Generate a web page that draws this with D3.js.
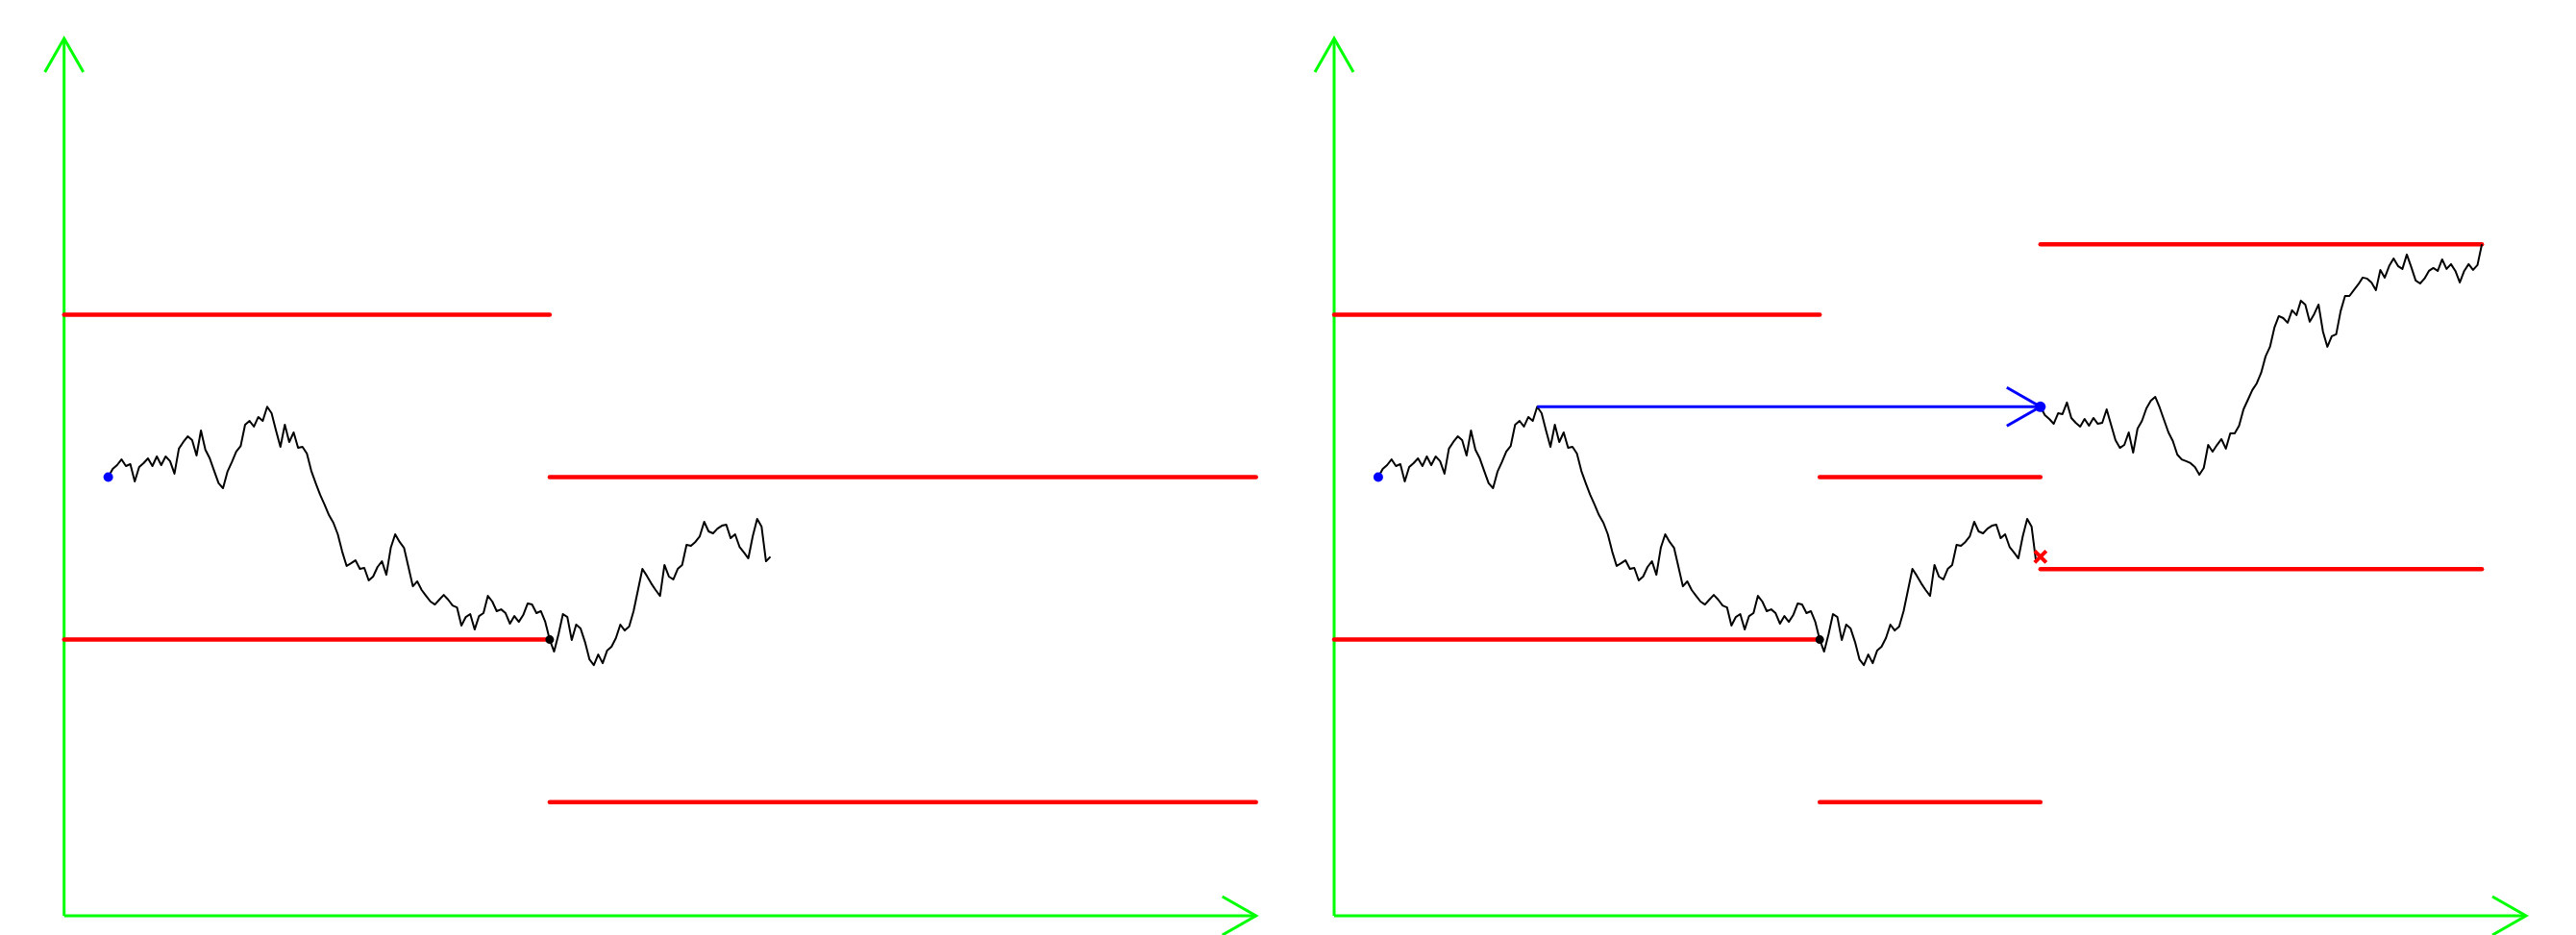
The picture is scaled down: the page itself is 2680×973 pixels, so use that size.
<!DOCTYPE html>
<html>
<head>
<meta charset="utf-8">
<script src="https://cdn.jsdelivr.net/npm/d3@7"></script>
<style>
  body { margin: 0; background: #fff; }
  svg { display: block; }
</style>
</head>
<body>
<svg id="chart"></svg>
<script>
// time grid step of the sampled paths
const step = 0.01;

// first path, starts at 0 at t = 0, hits -1 at t = 1, stopped at t = 1.5
const path1 = [
  0, 0.050, 0.074, 0.109, 0.068, 0.080, -0.027, 0.062, 0.086, 0.115,
  0.068, 0.127, 0.074, 0.127, 0.098, 0.021, 0.175, 0.216, 0.251, 0.228,
  0.133, 0.287, 0.169, 0.115, 0.038, -0.038, -0.068, 0.033, 0.092, 0.157,
  0.192, 0.322, 0.346, 0.311, 0.370, 0.346, 0.433, 0.393, 0.287, 0.186,
  0.322, 0.216, 0.275, 0.180, 0.186, 0.145, 0.038, -0.038, -0.109, -0.169,
  -0.234, -0.281, -0.352, -0.459, -0.547, -0.530, -0.512, -0.565, -0.559, -0.636,
  -0.612, -0.553, -0.518, -0.601, -0.435, -0.352, -0.399, -0.435, -0.553, -0.672,
  -0.642, -0.695, -0.731, -0.766, -0.784, -0.754, -0.725, -0.754, -0.790, -0.802,
  -0.914, -0.861, -0.843, -0.938, -0.855, -0.837, -0.731, -0.766, -0.825, -0.814,
  -0.837, -0.902, -0.855, -0.891, -0.849, -0.778, -0.784, -0.837, -0.825, -0.891,
  -1.000, -1.074, -0.967, -0.843, -0.861, -1.003, -0.908, -0.932, -1.015, -1.121,
  -1.157, -1.092, -1.145, -1.068, -1.044, -0.991, -0.908, -0.944, -0.920, -0.825,
  -0.695, -0.565, -0.607, -0.654, -0.695, -0.731, -0.541, -0.612, -0.630, -0.565,
  -0.541, -0.417, -0.423, -0.399, -0.364, -0.275, -0.334, -0.346, -0.317, -0.299,
  -0.293, -0.376, -0.352, -0.429, -0.464, -0.500, -0.364, -0.257, -0.305, -0.518,
  -0.490
];

// second path, restarted at the running max at t = 1.5, hits max+1 at t = 2.5
const path2 = [
  0.433, 0.382, 0.358, 0.328, 0.393, 0.388, 0.459, 0.364, 0.334, 0.311,
  0.358, 0.317, 0.364, 0.328, 0.334, 0.417, 0.322, 0.228, 0.180, 0.198,
  0.275, 0.151, 0.299, 0.346, 0.423, 0.470, 0.494, 0.429, 0.352, 0.275,
  0.222, 0.139, 0.109, 0.098, 0.086, 0.062, 0.015, 0.056, 0.198, 0.157,
  0.198, 0.234, 0.175, 0.269, 0.269, 0.317, 0.417, 0.476, 0.536, 0.577,
  0.642, 0.743, 0.802, 0.920, 0.991, 0.979, 0.950, 1.027, 0.997, 1.086,
  1.062, 0.956, 1.003, 1.062, 0.896, 0.802, 0.867, 0.879, 1.021, 1.115,
  1.115, 1.151, 1.186, 1.228, 1.222, 1.198, 1.151, 1.275, 1.228, 1.299,
  1.346, 1.299, 1.281, 1.370, 1.293, 1.210, 1.192, 1.222, 1.269, 1.287,
  1.269, 1.340, 1.281, 1.311, 1.269, 1.198, 1.269, 1.311, 1.275, 1.305,
  1.433
];

const tStart1 = 0, tHit = 1, tRestart = 1.5, tEnd = 2.5;
const tDomain = [-0.1, 2.6], vDomain = [-2.7, 2.7];

const M = d3.max(path1);
const tMax = d3.maxIndex(path1) * step;

// barrier segments [from, to, level]
const leftBarriers = [
  [tDomain[0], tHit, 1], [tDomain[0], tHit, -1],
  [tHit, tDomain[1], 0], [tHit, tDomain[1], -2]
];
const rightBarriers = [
  [tDomain[0], tHit, 1], [tDomain[0], tHit, -1],
  [tHit, tRestart, 0], [tHit, tRestart, -2],
  [tRestart, tEnd, M + 1], [tRestart, tEnd, M - 1]
];

const width = 2680, height = 973;
const svg = d3.select("#chart").attr("width", width).attr("height", height);

const green = "#00ff00", red = "#ff0000", blue = "#0000ff";

function drawPanel(left, barriers, showRight) {
  const x = d3.scaleLinear().domain(tDomain).range([left, left + 1240]);
  const y = d3.scaleLinear().domain(vDomain).range([953, 40]);
  const g = svg.append("g");

  // axes with open arrow heads
  g.append("line").attr("x1", x(tDomain[0])).attr("y1", y(vDomain[0]))
    .attr("x2", x(tDomain[0])).attr("y2", y(vDomain[1]));
  g.append("line").attr("x1", x(tDomain[0])).attr("y1", y(vDomain[0]))
    .attr("x2", x(tDomain[1])).attr("y2", y(vDomain[0]));
  g.append("path").attr("d", d3.line()([
      [x(tDomain[0]) - 20, y(vDomain[1]) + 35], [x(tDomain[0]), y(vDomain[1])], [x(tDomain[0]) + 20, y(vDomain[1]) + 35]]));
  g.append("path").attr("d", d3.line()([
      [x(tDomain[1]) - 35, y(vDomain[0]) - 20], [x(tDomain[1]), y(vDomain[0])], [x(tDomain[1]) - 35, y(vDomain[0]) + 20]]));
  g.selectAll("line, path").attr("stroke", green).attr("stroke-width", 3).attr("fill", "none");

  // barriers
  g.selectAll(".barrier").data(barriers).enter().append("line")
    .attr("class", "barrier")
    .attr("x1", d => x(d[0])).attr("x2", d => x(d[1]))
    .attr("y1", d => y(d[2])).attr("y2", d => y(d[2]))
    .attr("stroke", red).attr("stroke-width", 4.5).attr("stroke-linecap", "round");

  const line = d3.line().x(d => x(d[0])).y(d => y(d[1]));
  const p1 = path1.map((v, i) => [tStart1 + i * step, v]);

  g.append("path").attr("d", line(p1))
    .attr("fill", "none").attr("stroke", "#000").attr("stroke-width", 2)
    .attr("stroke-linejoin", "round");

  if (showRight) {
    const p2 = path2.map((v, i) => [tRestart + i * step, v]);
    g.append("path").attr("d", line(p2))
      .attr("fill", "none").attr("stroke", "#000").attr("stroke-width", 2)
      .attr("stroke-linejoin", "round");

    // arrow from running max to restart
    g.append("line").attr("x1", x(tMax)).attr("y1", y(M))
      .attr("x2", x(tRestart)).attr("y2", y(M))
      .attr("stroke", blue).attr("stroke-width", 3);
    g.append("path").attr("d", d3.line()([
        [x(tRestart) - 35, y(M) - 20], [x(tRestart), y(M)], [x(tRestart) - 35, y(M) + 20]]))
      .attr("fill", "none").attr("stroke", blue).attr("stroke-width", 3);
    g.append("circle").attr("cx", x(tRestart)).attr("cy", y(M)).attr("r", 5.5).attr("fill", blue);

    // stop mark at end of first path
    const ex = x(tRestart), ey = y(path1[path1.length - 1]);
    g.append("path").attr("d", `M${ex - 6},${ey - 6}L${ex + 6},${ey + 6}M${ex - 6},${ey + 6}L${ex + 6},${ey - 6}`)
      .attr("stroke", red).attr("stroke-width", 4);
  }

  g.append("circle").attr("cx", x(tStart1)).attr("cy", y(path1[0])).attr("r", 5).attr("fill", blue);
  g.append("circle").attr("cx", x(tHit)).attr("cy", y(-1)).attr("r", 4.5).attr("fill", "#000");
}

drawPanel(66.7, leftBarriers, false);
drawPanel(1388, rightBarriers, true);
</script>
</body>
</html>
